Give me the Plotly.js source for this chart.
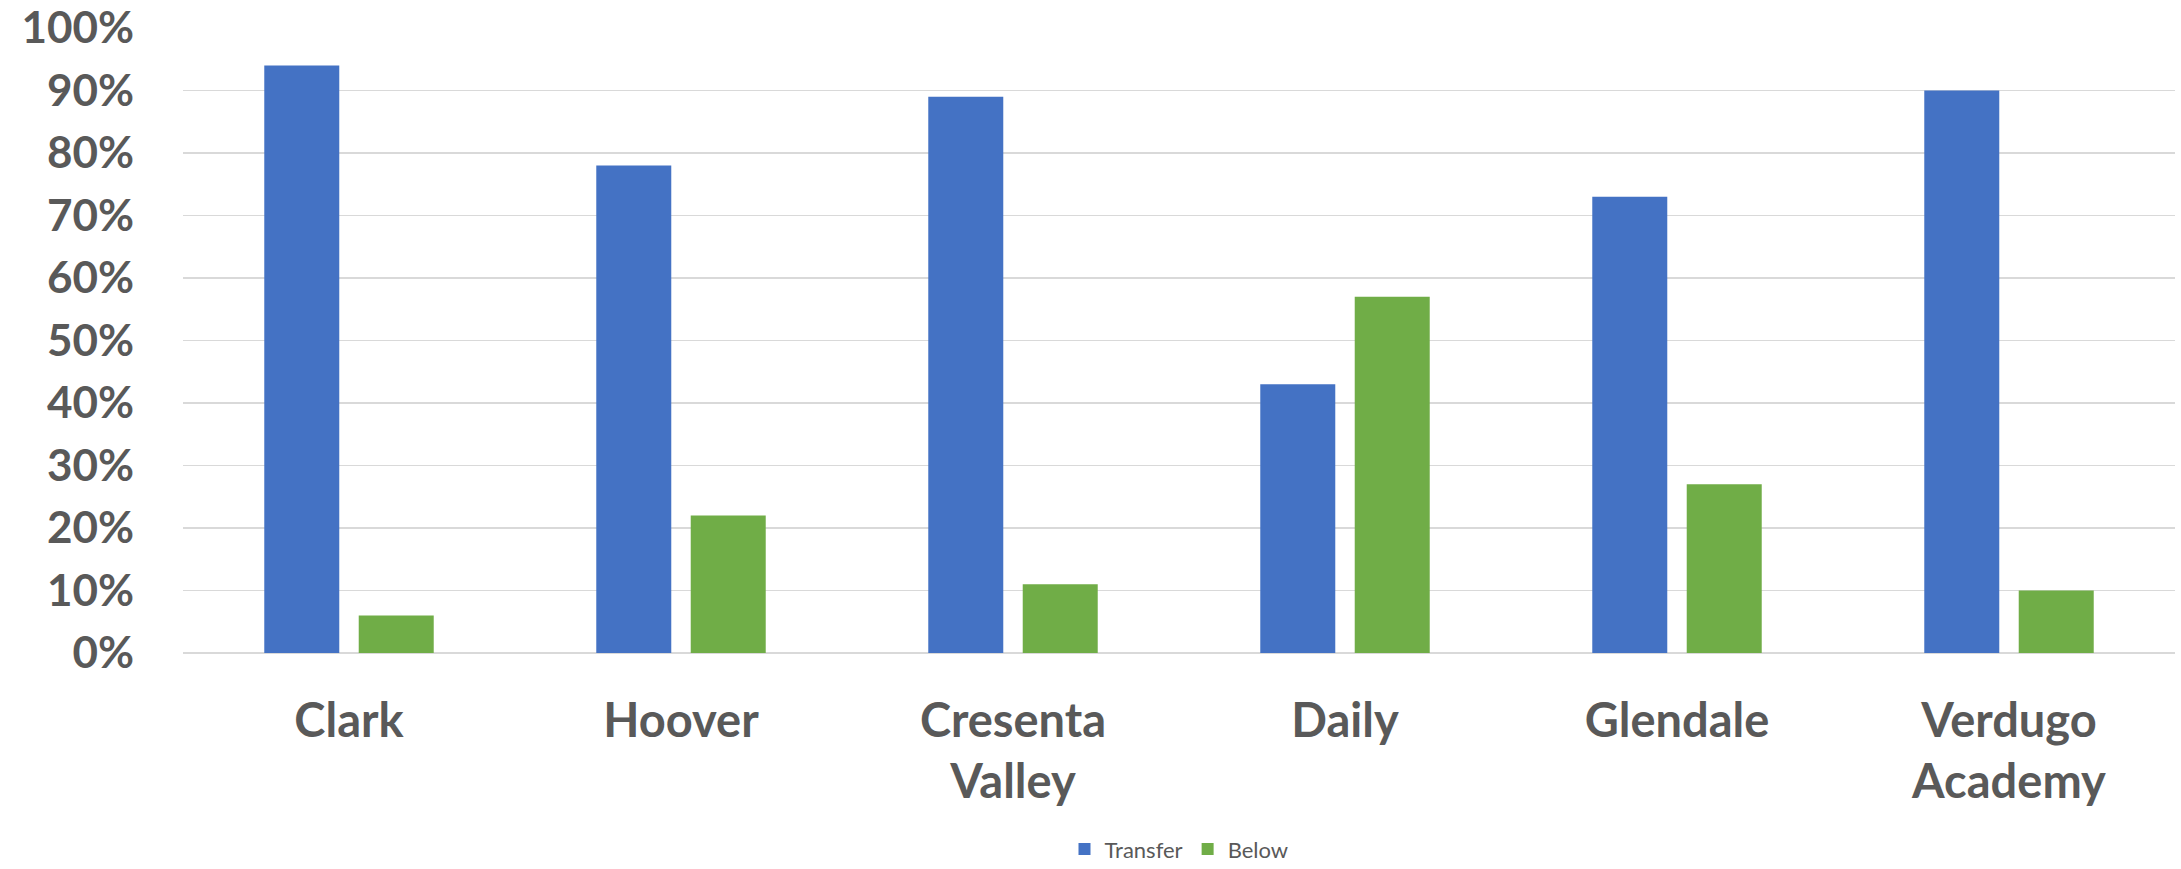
<!DOCTYPE html>
<html>
<head>
<meta charset="utf-8">
<script src="https://cdn.plot.ly/plotly-3.0.1.min.js"></script>
<style>
  html, body { margin: 0; padding: 0; background: #ffffff; }
  #chart { width: 2181px; height: 869px; }
</style>
</head>
<body>
<div id="chart"></div>
<script>
const categories = ["Clark", "Hoover", "Cresenta<br>Valley", "Daily", "Glendale", "Verdugo<br>Academy"];
const transferValues = [0.94, 0.78, 0.89, 0.43, 0.73, 0.90];
const belowValues = [0.06, 0.22, 0.11, 0.57, 0.27, 0.10];
const yTickValues = [0, 0.1, 0.2, 0.3, 0.4, 0.5, 0.6, 0.7, 0.8, 0.9, 1.0];
const yTickLabels = ["0%", "10%", "20%", "30%", "40%", "50%", "60%", "70%", "80%", "90%", "100%"];

const textColor = "#595959";
const fontFamily = "Lato, 'Open Sans', 'Liberation Sans', sans-serif";

const traces = [
  {
    type: "bar",
    name: "Transfer",
    x: categories,
    y: transferValues,
    marker: { color: "#4472C4" },
    hoverinfo: "skip"
  },
  {
    type: "bar",
    name: "Below",
    x: categories,
    y: belowValues,
    marker: { color: "#70AD47" },
    hoverinfo: "skip"
  }
];

const layout = {
  width: 2181,
  height: 869,
  paper_bgcolor: "#ffffff",
  plot_bgcolor: "#ffffff",
  margin: { l: 183, r: 6, t: 28, b: 216, autoexpand: false },
  barmode: "group",
  bargap: 0.431,
  bargroupgap: 0.206,
  showlegend: true,
  legend: {
    orientation: "h",
    x: 0.5,
    xanchor: "center",
    y: -0.314,
    yanchor: "middle",
    font: { family: fontFamily, size: 22, color: textColor },
    itemsizing: "constant",
    traceorder: "normal"
  },
  xaxis: {
    type: "category",
    automargin: false,
    showgrid: false,
    zeroline: false,
    showline: false,
    ticks: "",
    ticklabelstandoff: 36,
    tickfont: { family: fontFamily, size: 47, color: textColor, weight: "bold" },
    fixedrange: true
  },
  yaxis: {
    range: [0, 1],
    automargin: false,
    tickvals: yTickValues,
    ticktext: yTickLabels,
    showgrid: true,
    gridcolor: "#D9D9D9",
    gridwidth: 1.5,
    zeroline: true,
    zerolinecolor: "#D9D9D9",
    zerolinewidth: 1.5,
    showline: false,
    ticks: "",
    ticklabelstandoff: 48,
    tickfont: { family: fontFamily, size: 44, color: textColor, weight: "bold" },
    fixedrange: true
  }
};

Plotly.newPlot("chart", traces, layout, { displayModeBar: false, staticPlot: true });
</script>
</body>
</html>
